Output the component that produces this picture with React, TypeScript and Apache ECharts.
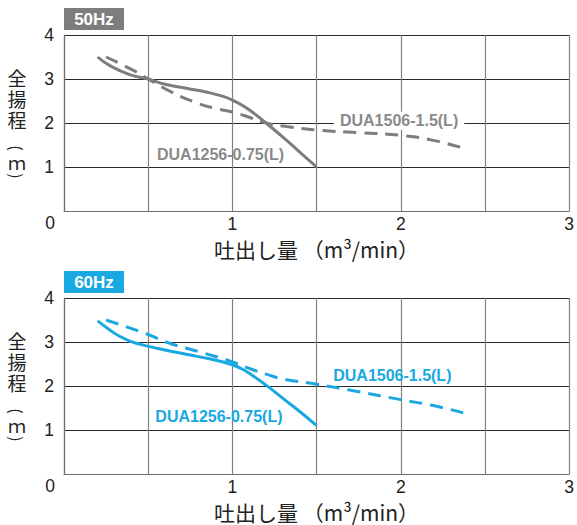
import React, { useEffect, useRef } from "react";
import * as echarts from "echarts";

// 50Hz
const q50Small = [0.2, 0.27, 0.39, 0.5, 0.6, 0.74, 0.85, 0.95, 1.0, 1.05, 1.1, 1.2, 1.3, 1.4, 1.5];
const h50Small = [3.5, 3.31, 3.1, 3.0, 2.88, 2.78, 2.7, 2.6, 2.52, 2.42, 2.3, 2.0, 1.68, 1.34, 1.0];
const q50Large = [0.25, 0.41, 0.5, 0.64, 0.8, 0.9, 1.0, 1.1, 1.2, 1.3, 1.5, 1.75, 2.0, 2.2, 2.38];
const h50Large = [3.5, 3.2, 3.0, 2.7, 2.44, 2.33, 2.25, 2.13, 2.0, 1.93, 1.84, 1.78, 1.72, 1.6, 1.42];
// 60Hz
const q60Small = [0.2, 0.27, 0.33, 0.4, 0.46, 0.55, 0.74, 0.85, 0.95, 1.0, 1.05, 1.1, 1.2, 1.3, 1.4, 1.5];
const h60Small = [3.48, 3.28, 3.13, 3.01, 2.94, 2.86, 2.71, 2.63, 2.54, 2.48, 2.4, 2.29, 2.02, 1.72, 1.42, 1.1];
const q60Large = [0.25, 0.5, 0.62, 0.82, 1.0, 1.1, 1.2, 1.3, 1.5, 1.75, 2.0, 2.2, 2.4];
const h60Large = [3.5, 3.17, 2.98, 2.76, 2.55, 2.4, 2.27, 2.16, 2.04, 1.87, 1.69, 1.55, 1.36];

const xTicks = [1, 2, 3];
const yTicks = [1, 2, 3, 4];
const panels = ["50Hz", "60Hz"];
const nameSmall = "DUA1256-0.75(L)";
const nameLarge = "DUA1506-1.5(L)";
const xTitle = "吐出し量 （m³/min）";
const yTitleMain = "全\n揚\n程";
const yTitleUnit = ["(", "ｍ", ")"];
// label anchor points in data coords: [panel][small, large]
const labelAt = [
  [[0.93, 1.29], [1.99, 2.05]],
  [[0.92, 1.31], [1.95, 2.24]],
];

const GRAY = "#7d7d7d";
const BLUE = "#19a8e2";
const NUM_FONT = "Liberation Sans, Arial, sans-serif";
const JP_FONT = "Noto Sans CJK JP, sans-serif";

const zip = (a: number[], b: number[]) => a.map((v, i) => [v, b[i]]);

export default function App() {
  const ref = useRef<HTMLDivElement>(null);
  useEffect(() => {
    if (!ref.current) return;
    const chart = echarts.init(ref.current, null, { renderer: "svg" });
    const tops = [35, 298];
    const colors = [GRAY, BLUE];
    const grids = tops.map((t) => ({ left: 64, top: t, width: 509, height: 176 }));
    const xAxes = tops.map((_, i) => ({
      type: "value",
      gridIndex: i,
      min: 0,
      max: 3,
      interval: 0.5,
      name: xTitle,
      nameLocation: "middle",
      nameGap: 27,
      nameTextStyle: { fontFamily: JP_FONT, fontSize: 21, color: "#222" },
      axisLine: { show: true, lineStyle: { color: "#6f6f6f", width: 1.2 } },
      axisTick: { show: false },
      axisLabel: {
        margin: 4,
        fontSize: 17.5,
        fontFamily: NUM_FONT,
        color: "#222",
        formatter: (v: number) => (xTicks.includes(v) ? String(v) : ""),
      },
      splitLine: { show: true, lineStyle: { color: "#808080", width: 1.2 } },
    }));
    const yAxes = tops.map((_, i) => ({
      type: "value",
      gridIndex: i,
      min: 0,
      max: 4,
      interval: 1,
      axisLine: { show: true, lineStyle: { color: "#6f6f6f", width: 1.2 } },
      axisTick: { show: false },
      axisLabel: {
        margin: 10,
        fontSize: 17.5,
        fontFamily: NUM_FONT,
        color: "#222",
        formatter: (v: number) => (yTicks.includes(v) ? String(v) : ""),
      },
      splitLine: { show: true, lineStyle: { color: "#2a2a2a", width: 1.2 } },
    }));
    const mk = (i: number, which: number, text: string, bg: boolean) => ({
      symbol: "circle",
      symbolSize: 1,
      itemStyle: { color: "rgba(0,0,0,0)" },
      silent: true,
      data: [
        {
          coord: labelAt[i][which],
          label: {
            show: true,
            position: "inside",
            formatter: text,
            color: i === 0 ? "#8a8a8a" : BLUE,
            fontFamily: NUM_FONT,
            fontWeight: "bold",
            fontSize: 16,
            backgroundColor: bg ? "#fff" : "transparent",
            padding: bg ? [1, 6] : 0,
          },
        },
      ],
    });
    const data = [
      [zip(q50Small, h50Small), zip(q50Large, h50Large)],
      [zip(q60Small, h60Small), zip(q60Large, h60Large)],
    ];
    const series: any[] = [];
    tops.forEach((_, i) => {
      series.push({
        type: "line",
        xAxisIndex: i,
        yAxisIndex: i,
        data: data[i][0],
        smooth: 0.5,
        showSymbol: false,
        lineStyle: { color: colors[i], width: 3 },
        markPoint: mk(i, 0, nameSmall, false),
        z: 3,
      });
      series.push({
        type: "line",
        xAxisIndex: i,
        yAxisIndex: i,
        data: data[i][1],
        smooth: 0.5,
        showSymbol: false,
        lineStyle: { color: colors[i], width: 3, type: [13, 8] },
        markPoint: mk(i, 1, nameLarge, i === 0),
        z: 2,
      });
    });
    const graphic: any[] = [];
    panels.forEach((p, i) => {
      const t = tops[i];
      graphic.push({
        type: "rect",
        shape: { x: 64, y: t - 27, width: 60, height: 22 },
        style: { fill: colors[i] },
      });
      graphic.push({
        type: "text",
        x: 94,
        y: t - 16,
        style: {
          text: p,
          fill: "#fff",
          font: `bold 17px ${NUM_FONT}`,
          align: "center",
          verticalAlign: "middle",
        },
      });
      graphic.push({
        type: "text",
        x: 50,
        y: t + 188,
        style: {
          text: "0",
          fill: "#222",
          font: `17.5px ${NUM_FONT}`,
          align: "center",
          verticalAlign: "middle",
        },
      });
      graphic.push({
        type: "text",
        x: 17,
        y: t + 63,
        style: {
          text: yTitleMain,
          fill: "#222",
          font: `19px ${JP_FONT}`,
          lineHeight: 21,
          align: "center",
          verticalAlign: "middle",
        },
      });
      const ys = [113, 127, 141];
      yTitleUnit.forEach((c, k) => {
        const paren = k !== 1;
        graphic.push({
          type: "text",
          x: 17,
          y: t + ys[k],
          rotation: paren ? -Math.PI / 2 : 0,
          style: {
            text: c,
            fill: "#222",
            font: paren ? `16px ${JP_FONT}` : `18px ${JP_FONT}`,
            lineHeight: paren ? 16 : 12,
            align: "center",
            verticalAlign: "middle",
          },
        });
      });
    });
    chart.setOption({
      animation: false,
      grid: grids,
      xAxis: xAxes,
      yAxis: yAxes,
      series,
      graphic,
    });
    return () => chart.dispose();
  }, []);
  return (
    <div
      ref={ref}
      style={{ position: "fixed", left: 0, top: 0, width: 577, height: 525, background: "#fff" }}
    />
  );
}
